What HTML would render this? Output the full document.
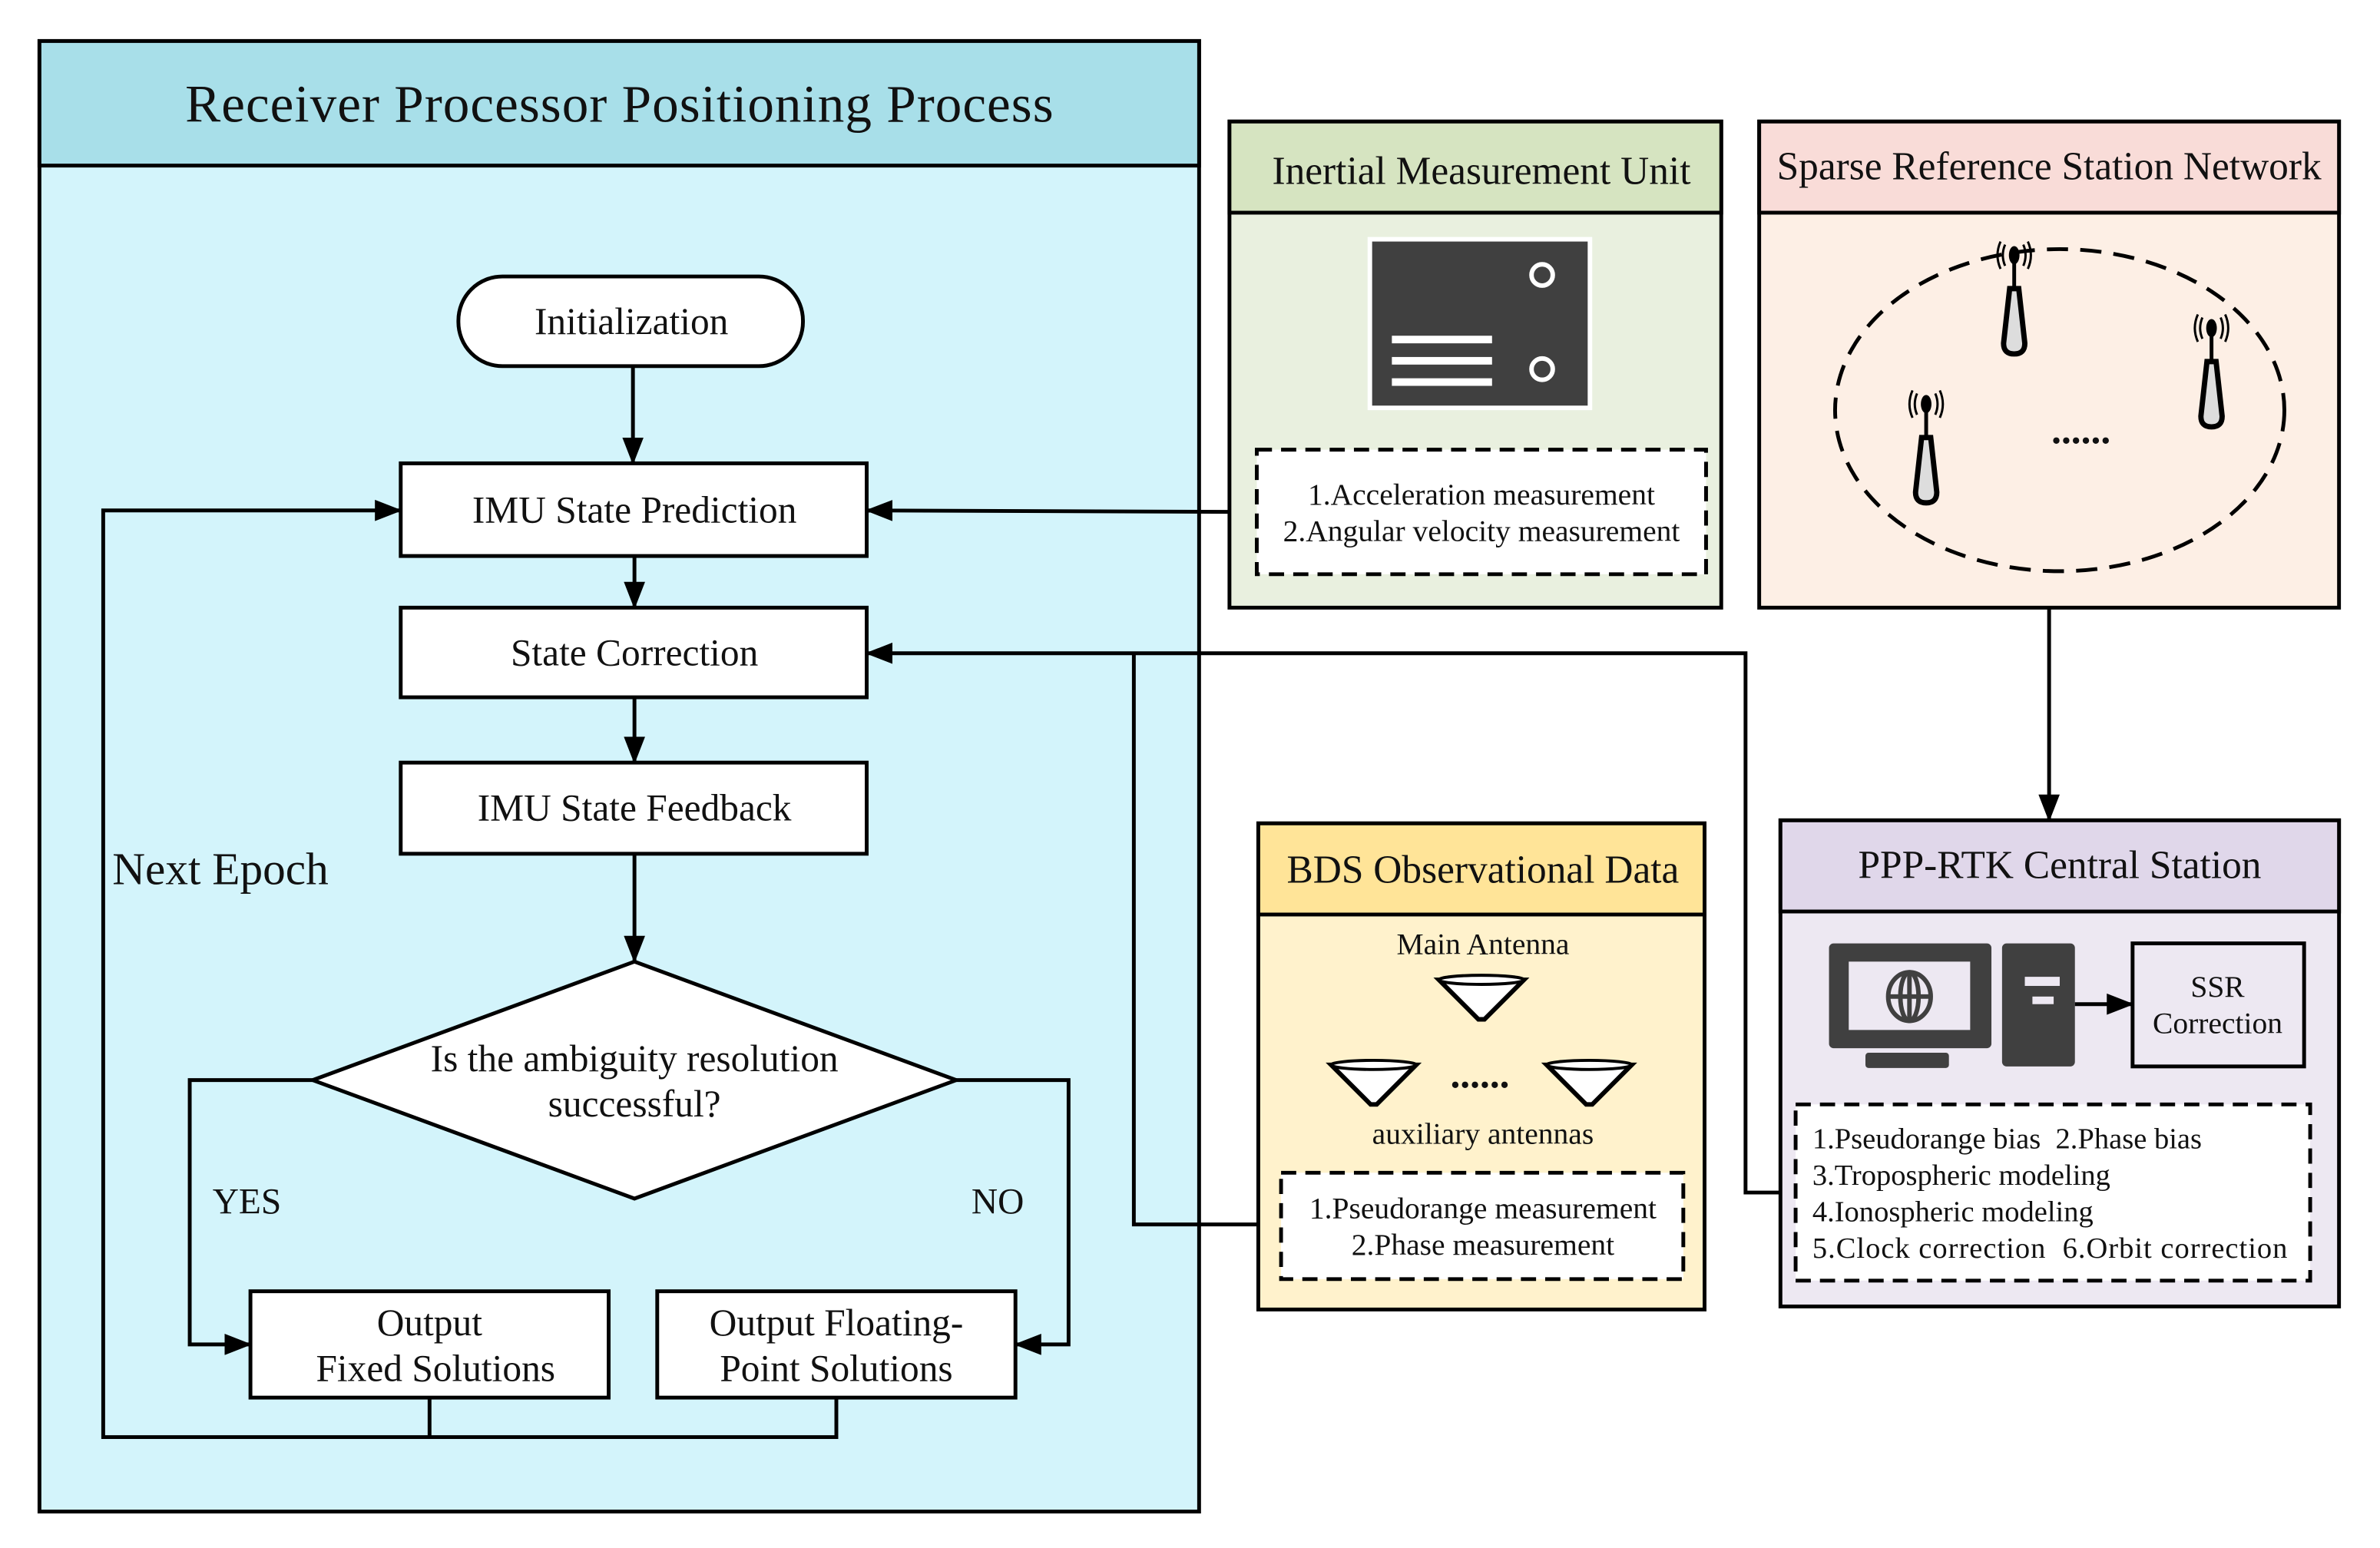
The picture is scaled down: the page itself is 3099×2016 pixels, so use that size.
<!DOCTYPE html>
<html><head><meta charset="utf-8"><style>
html,body{margin:0;padding:0;background:#fff;}
svg{display:block;}
text{font-family:"Liberation Serif",serif;fill:#111;}
</style></head><body>
<svg width="3099" height="2016" viewBox="0 0 1568 1019" preserveAspectRatio="none" xmlns="http://www.w3.org/2000/svg">
<defs>
<marker id="ar2" markerWidth="18" markerHeight="14" refX="17" refY="7" orient="auto" markerUnits="userSpaceOnUse">
<path d="M0,0 L18,7 L0,14 z" fill="#000"/></marker>
<g id="ant">
<path d="M-3,-28 L3,-28 L7,8 Q7,15 0,15 Q-7,15 -7,8 Z" fill="#ddd" stroke="#000" stroke-width="3.5"/>
<line x1="0" y1="-28" x2="0" y2="-48" stroke="#000" stroke-width="2.5"/>
<ellipse cx="0" cy="-50" rx="3.5" ry="6" fill="#000"/>
<path d="M-6,-57 Q-9,-50 -6,-43 M6,-57 Q9,-50 6,-43 M-9,-59 Q-13,-50 -9,-41 M9,-59 Q13,-50 9,-41" fill="none" stroke="#000" stroke-width="1.5"/>
</g>
<g id="cone">
<path d="M-28,-10 L28,-10 L2,16 L-2,16 Z" fill="#fff" stroke="#000" stroke-width="3"/>
<ellipse cx="0" cy="-10" rx="28" ry="3" fill="#fff" stroke="#000" stroke-width="2"/>
</g>
</defs>

<rect x="26" y="27" width="764" height="968" fill="#d3f4fb" stroke="#000" stroke-width="2.5"/>
<rect x="26" y="27" width="764" height="82" fill="#a8dfe9" stroke="#000" stroke-width="2.5"/>
<text x="408" y="80" font-size="35" text-anchor="middle" textLength="572">Receiver Processor Positioning Process</text>

<rect x="302" y="182" width="227" height="59" rx="29" fill="#fff" stroke="#000" stroke-width="2.5"/>
<text x="416" y="220" font-size="25" text-anchor="middle">Initialization</text>
<rect x="264" y="305" width="307" height="61" fill="#fff" stroke="#000" stroke-width="2.5"/>
<text x="418" y="344" font-size="25" text-anchor="middle">IMU State Prediction</text>
<rect x="264" y="400" width="307" height="59" fill="#fff" stroke="#000" stroke-width="2.5"/>
<text x="418" y="438" font-size="25" text-anchor="middle">State Correction</text>
<rect x="264" y="502" width="307" height="60" fill="#fff" stroke="#000" stroke-width="2.5"/>
<text x="418" y="540" font-size="25" text-anchor="middle">IMU State Feedback</text>
<polygon points="418,633 630,711 418,789 206,711" fill="#fff" stroke="#000" stroke-width="2.5"/>
<text x="418" y="705" font-size="25" text-anchor="middle">Is the ambiguity resolution</text>
<text x="418" y="735" font-size="25" text-anchor="middle">successful?</text>
<rect x="165" y="850" width="236" height="70" fill="#fff" stroke="#000" stroke-width="2.5"/>
<text x="283" y="879" font-size="25" text-anchor="middle">Output</text>
<text x="287" y="909" font-size="25" text-anchor="middle">Fixed Solutions</text>
<rect x="433" y="850" width="236" height="70" fill="#fff" stroke="#000" stroke-width="2.5"/>
<text x="551" y="879" font-size="25" text-anchor="middle">Output Floating-</text>
<text x="551" y="909" font-size="25" text-anchor="middle">Point Solutions</text>

<g stroke="#000" stroke-width="2.5" fill="none">
<line x1="417" y1="241" x2="417" y2="305" marker-end="url(#ar2)"/>
<line x1="418" y1="366" x2="418" y2="400" marker-end="url(#ar2)"/>
<line x1="418" y1="459" x2="418" y2="502" marker-end="url(#ar2)"/>
<line x1="418" y1="562" x2="418" y2="633" marker-end="url(#ar2)"/>
<polyline points="206,711 125,711 125,885 165,885" marker-end="url(#ar2)"/>
<polyline points="630,711 704,711 704,885 669,885" marker-end="url(#ar2)"/>
<polyline points="283,920 283,946"/>
<polyline points="551,920 551,946 68,946 68,336 264,336" marker-end="url(#ar2)"/>
<polyline points="828,337 571,336" marker-end="url(#ar2)"/>
<polyline points="844,806 747,806 747,430"/>
<polyline points="1183,785 1150,785 1150,430 571,430" marker-end="url(#ar2)"/>
<line x1="1350" y1="400" x2="1350" y2="540" marker-end="url(#ar2)"/>
</g>
<text x="74" y="582" font-size="30">Next Epoch</text>
<text x="140" y="799" font-size="24">YES</text>
<text x="640" y="799" font-size="24">NO</text>

<rect x="810" y="80" width="324" height="320" fill="#e9f0df" stroke="#000" stroke-width="2.5"/>
<rect x="810" y="80" width="324" height="60" fill="#d6e4c1" stroke="#000" stroke-width="2.5"/>
<text x="976" y="121" font-size="26" text-anchor="middle">Inertial Measurement Unit</text>
<rect x="901" y="156" width="148" height="114" fill="#fff"/>
<rect x="904" y="159" width="142" height="108" fill="#404040"/>
<circle cx="1016" cy="181" r="7" fill="none" stroke="#fff" stroke-width="3"/>
<circle cx="1016" cy="243" r="7" fill="none" stroke="#fff" stroke-width="3"/>
<rect x="917" y="221" width="66" height="5" fill="#fff"/>
<rect x="917" y="235" width="66" height="5" fill="#fff"/>
<rect x="917" y="249" width="66" height="5" fill="#fff"/>
<rect x="828" y="296" width="296" height="82" fill="#fff" stroke="#000" stroke-width="2.5" stroke-dasharray="10,6"/>
<text x="976" y="332" font-size="20" text-anchor="middle">1.Acceleration measurement</text>
<text x="976" y="356" font-size="20" text-anchor="middle">2.Angular velocity measurement</text>

<rect x="1159" y="80" width="382" height="320" fill="#fdefe5" stroke="#000" stroke-width="2.5"/>
<rect x="1159" y="80" width="382" height="60" fill="#f9dcd8" stroke="#000" stroke-width="2.5"/>
<text x="1350" y="118" font-size="26" text-anchor="middle">Sparse Reference Station Network</text>
<ellipse cx="1357" cy="270" rx="148" ry="106" fill="none" stroke="#000" stroke-width="2.5" stroke-dasharray="14,8"/>
<use href="#ant" x="1327" y="218"/>
<use href="#ant" x="1457" y="266"/>
<use href="#ant" x="1269" y="316"/>
<text x="1371" y="292" font-size="26" text-anchor="middle" font-weight="bold">......</text>

<rect x="829" y="542" width="294" height="320" fill="#fff2cc" stroke="#000" stroke-width="2.5"/>
<rect x="829" y="542" width="294" height="60" fill="#ffe498" stroke="#000" stroke-width="2.5"/>
<text x="977" y="581" font-size="26" text-anchor="middle">BDS Observational Data</text>
<text x="977" y="628" font-size="20" text-anchor="middle">Main Antenna</text>
<use href="#cone" x="976" y="655"/>
<use href="#cone" x="905" y="711"/>
<use href="#cone" x="1047" y="711"/>
<text x="975" y="716" font-size="26" text-anchor="middle" font-weight="bold">......</text>
<text x="977" y="753" font-size="20" text-anchor="middle">auxiliary antennas</text>
<rect x="844" y="772" width="265" height="70" fill="#fff" stroke="#000" stroke-width="2.5" stroke-dasharray="10,6"/>
<text x="977" y="802" font-size="20" text-anchor="middle">1.Pseudorange measurement</text>
<text x="977" y="826" font-size="20" text-anchor="middle">2.Phase measurement</text>

<rect x="1173" y="540" width="368" height="320" fill="#ede8f2" stroke="#000" stroke-width="2.5"/>
<rect x="1173" y="540" width="368" height="60" fill="#e0d7ea" stroke="#000" stroke-width="2.5"/>
<text x="1357" y="578" font-size="26" text-anchor="middle">PPP-RTK Central Station</text>
<rect x="1205" y="621" width="107" height="69" rx="3" fill="#404040"/>
<rect x="1218" y="633" width="80" height="45" fill="#ede8f2"/>
<g fill="none" stroke="#404040" stroke-width="3">
<ellipse cx="1258" cy="656" rx="14" ry="16"/>
<ellipse cx="1258" cy="656" rx="6" ry="16"/>
<line x1="1244" y1="656" x2="1272" y2="656"/>
<line x1="1258" y1="640" x2="1258" y2="672"/>
</g>
<rect x="1229" y="693" width="55" height="10" rx="2" fill="#404040"/>
<rect x="1319" y="621" width="48" height="81" rx="3" fill="#404040"/>
<rect x="1334" y="643" width="23" height="6" fill="#ede8f2"/>
<rect x="1339" y="656" width="14" height="5" fill="#ede8f2"/>
<line x1="1367" y1="661" x2="1405" y2="661" stroke="#000" stroke-width="2.5" marker-end="url(#ar2)"/>
<rect x="1405" y="621" width="113" height="81" fill="#ede8f2" stroke="#000" stroke-width="2.5"/>
<text x="1461" y="656" font-size="20" text-anchor="middle">SSR</text>
<text x="1461" y="680" font-size="20" text-anchor="middle">Correction</text>
<rect x="1183" y="727" width="339" height="116" fill="#fff" stroke="#000" stroke-width="2.5" stroke-dasharray="10,6"/>
<text x="1194" y="756" font-size="19.5" xml:space="preserve">1.Pseudorange bias  2.Phase bias</text>
<text x="1194" y="780" font-size="19.5">3.Tropospheric modeling</text>
<text x="1194" y="804" font-size="19.5">4.Ionospheric modeling</text>
<text x="1194" y="828" font-size="19.5" xml:space="preserve" textLength="313">5.Clock correction  6.Orbit correction</text>
</svg>
</body></html>
